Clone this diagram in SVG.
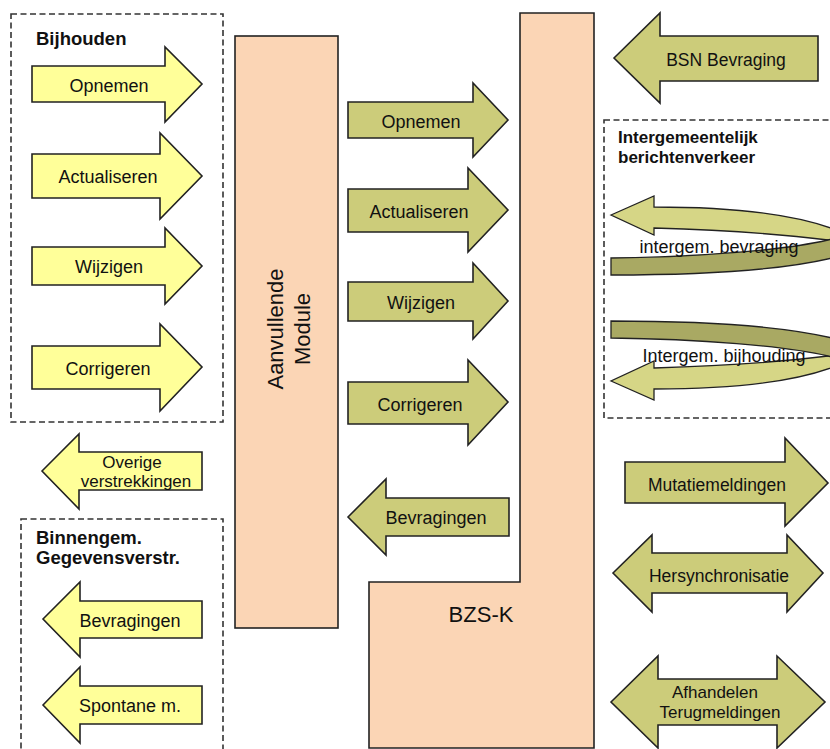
<svg xmlns="http://www.w3.org/2000/svg" width="830" height="749" viewBox="0 0 830 749">
<style>
text{font-family:"Liberation Sans",Arial,sans-serif;fill:#111}
.lbl{font-size:18px;text-anchor:middle}
.rl{font-size:17.5px;text-anchor:middle}
.rs{font-size:17px;text-anchor:middle}
.hd{font-size:17px;font-weight:bold}
.hb{font-size:18.5px;font-weight:bold}
.dash{fill:none;stroke:#333;stroke-width:1.6;stroke-dasharray:6 3.5}
.peach{fill:#FBD5B5;stroke:#222;stroke-width:1.6}
.yel{fill:#FFFF99;stroke:#222;stroke-width:1.6;stroke-linejoin:miter}
.grn{fill:#CCCC7A;stroke:#222;stroke-width:1.6}
.lt{fill:#D6D686;stroke:#222;stroke-width:1.3}
.dk{fill:#A9A963;stroke:#222;stroke-width:1.3}
</style>
<rect width="830" height="749" fill="#fff"/>

<g id="group-bijhouden">
<rect class="dash" x="11" y="14" width="212" height="408"/>
<text class="hb" x="36" y="45">Bijhouden</text>
</g>
<g id="group-binnengem">
<rect class="dash" x="21" y="519" width="202" height="250"/>
<text class="hb" x="36" y="544">Binnengem.</text>
<text class="hb" x="36" y="564">Gegevensverstr.</text>
</g>
<g id="group-intergem">
<rect class="dash" x="604" y="120" width="250" height="298"/>
<text class="hd" x="618" y="143">Intergemeentelijk</text>
<text class="hd" x="618" y="163">berichtenverkeer</text>
</g>

<g id="aanvullende-module">
<rect class="peach" x="235" y="36" width="103" height="592"/>
<text font-size="22" text-anchor="middle" transform="translate(283,329) rotate(-90)">Aanvullende</text>
<text font-size="22" text-anchor="middle" transform="translate(310,329) rotate(-90)">Module</text>
</g>

<g id="bzs-k">
<polygon class="peach" points="520,13 594,13 594,748 369,748 369,582 520,582"/>
<text font-size="22" text-anchor="middle" x="481" y="622">BZS-K</text>
</g>

<g id="connectors">
<g id="l-opnemen"><polygon class="yel" points="32,66 165,66 165,47 202,84 165,122 165,102 32,102"/><text class="lbl" x="109" y="92">Opnemen</text></g>
<g id="l-actualiseren"><polygon class="yel" points="32,154 160,154 160,133 202,176 160,219 160,198 32,198"/><text class="lbl" x="108" y="183">Actualiseren</text></g>
<g id="l-wijzigen"><polygon class="yel" points="32,247 165,247 165,228 202,266 165,304 165,285 32,285"/><text class="lbl" x="109" y="273">Wijzigen</text></g>
<g id="l-corrigeren"><polygon class="yel" points="32,346 160,346 160,324 202,367 160,411 160,389 32,389"/><text class="lbl" x="108" y="375">Corrigeren</text></g>
<g id="l-overige"><polygon class="yel" points="42,471 79,434 79,452 202,452 202,490 79,490 79,509"/><text class="rs" x="132" y="468">Overige</text><text class="rs" x="136" y="487">verstrekkingen</text></g>
<g id="l-bevragingen"><polygon class="yel" points="43,619 80,582 80,601 202,601 202,638 80,638 80,657"/><text class="lbl" x="130" y="627">Bevragingen</text></g>
<g id="l-spontane"><polygon class="yel" points="43,705 80,667 80,686 202,686 202,724 80,724 80,743"/><text class="lbl" x="130" y="712">Spontane m.</text></g>

<g id="m-opnemen"><polygon class="grn" points="348,102 473,102 473,83 508,120 473,157 473,138 348,138"/><text class="lbl" x="421" y="128">Opnemen</text></g>
<g id="m-actualiseren"><polygon class="grn" points="348,189 468,189 468,168 508,210 468,252 468,232 348,232"/><text class="lbl" x="419" y="218">Actualiseren</text></g>
<g id="m-wijzigen"><polygon class="grn" points="348,282 473,282 473,263 508,301 473,339 473,321 348,321"/><text class="lbl" x="421" y="309">Wijzigen</text></g>
<g id="m-corrigeren"><polygon class="grn" points="348,382 468,382 468,360 508,402 468,445 468,424 348,424"/><text class="lbl" x="420" y="411">Corrigeren</text></g>
<g id="m-bevragingen"><polygon class="grn" points="348,517 386,479 386,498 509,498 509,536 386,536 386,555"/><text class="lbl" x="436" y="524">Bevragingen</text></g>

<g id="r-bsn"><polygon class="grn" points="614,58 660,13 660,36 818,36 818,81 660,81 660,103"/><text class="rl" x="726" y="66">BSN Bevraging</text></g>

<g id="r-intergem-bevraging">
<path class="lt" d="M611,215 L654,196 L654,207 C720,207 790,212 836,230 L836,241 L828,240 C780,234 720,230 654,228 L654,235 Z"/>
<path class="dk" d="M611,258 C700,257 785,250 828,240 L836,238 L836,257 C785,270 700,275 611,275 Z"/>
<text class="lbl" x="719" y="253">intergem. bevraging</text>
</g>
<g id="r-intergem-bijhouding">
<g transform="matrix(1 0 0 -1 0 596)">
<path class="lt" d="M611,215 L654,196 L654,207 C720,207 790,212 836,230 L836,241 L828,240 C780,234 720,230 654,228 L654,235 Z"/>
<path class="dk" d="M611,258 C700,257 785,250 828,240 L836,238 L836,257 C785,270 700,275 611,275 Z"/>
</g>
<text class="lbl" x="724" y="362">Intergem. bijhouding</text>
</g>

<g id="r-mutatie"><polygon class="grn" points="625,462 785,462 785,438 828,483 785,526 785,503 625,503"/><text class="rl" x="717" y="491">Mutatiemeldingen</text></g>
<g id="r-hersync"><polygon class="grn" points="613,573 652,535 652,553 787,553 787,535 823,573 787,612 787,593 652,593 652,612"/><text class="rl" x="719" y="582">Hersynchronisatie</text></g>
<g id="r-afhandelen"><polygon class="grn" points="611,702 658,656 658,679 777,679 777,656 825,702 777,748 777,725 658,725 658,748"/><text class="rs" x="715" y="698">Afhandelen</text><text class="rs" x="720" y="718">Terugmeldingen</text></g>
</g>
</svg>
